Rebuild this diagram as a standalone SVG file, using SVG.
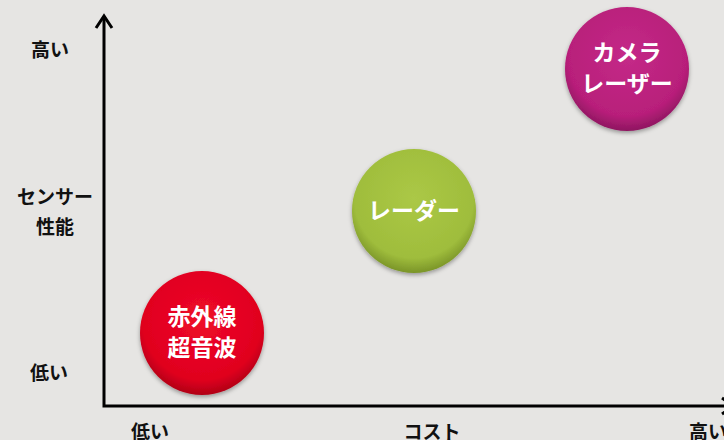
<svg xmlns="http://www.w3.org/2000/svg" width="724" height="440" viewBox="0 0 724 440">
<style>
.ax{font-family:"Noto Sans CJK JP",sans-serif;font-weight:bold;font-size:19px;fill:#111;text-anchor:middle}
.lb{font-family:"Noto Sans CJK JP",sans-serif;font-weight:bold;font-size:23px;fill:#fff;text-anchor:middle}
.axis{stroke:#000;stroke-width:3;fill:none}
</style>
<defs>
<radialGradient id="gm" cx="50%" cy="40%" r="60%"><stop offset="0" stop-color="#c42a88"/><stop offset="0.8" stop-color="#b81f7a"/><stop offset="1" stop-color="#8e1660"/></radialGradient>
<radialGradient id="gg" cx="50%" cy="40%" r="60%"><stop offset="0" stop-color="#abc846"/><stop offset="0.8" stop-color="#9fbd3c"/><stop offset="1" stop-color="#7a9428"/></radialGradient>
<radialGradient id="gr" cx="50%" cy="40%" r="60%"><stop offset="0" stop-color="#ee0a2a"/><stop offset="0.8" stop-color="#e0001e"/><stop offset="1" stop-color="#b00016"/></radialGradient>
<filter id="sh" x="-20%" y="-20%" width="140%" height="140%"><feDropShadow dx="0" dy="2" stdDeviation="2" flood-opacity="0.35"/></filter>
</defs>
<rect width="724" height="440" fill="#e6e5e3"/>
<g id="connectors">
<path class="axis" d="M104 16 V406 H726"/>
<path class="axis" d="M96 28 L104 16 L112 28"/>
<path class="axis" d="M722 398 L734 406 L722 414"/>
</g>
<g id="y-labels">
<text class="ax" x="50" y="57">高い</text>
<text class="ax" x="55" y="204">センサー</text>
<text class="ax" x="55" y="234">性能</text>
<text class="ax" x="49" y="380">低い</text>
</g>
<g id="x-labels">
<text class="ax" x="150" y="439">低い</text>
<text class="ax" x="432" y="439">コスト</text>
<text class="ax" x="708" y="439">高い</text>
</g>
<g id="node-camera">
<circle cx="627" cy="69" r="62" fill="url(#gm)" filter="url(#sh)"/>
<text class="lb" x="627" y="61">カメラ</text>
<text class="lb" x="627" y="92">レーザー</text>
</g>
<g id="node-radar">
<circle cx="414" cy="211" r="62" fill="url(#gg)" filter="url(#sh)"/>
<text class="lb" x="414" y="219">レーダー</text>
</g>
<g id="node-ir">
<circle cx="202" cy="333" r="62" fill="url(#gr)" filter="url(#sh)"/>
<text class="lb" x="202" y="325">赤外線</text>
<text class="lb" x="202" y="356">超音波</text>
</g>
</svg>
